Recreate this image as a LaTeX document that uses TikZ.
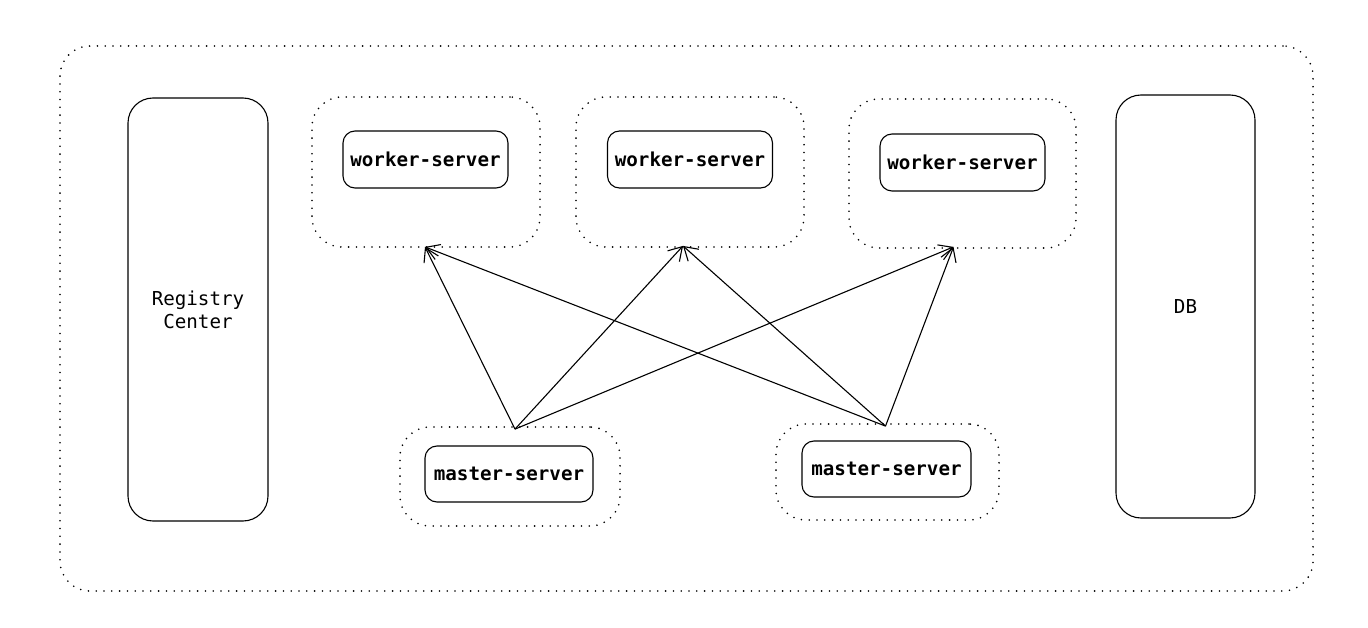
\documentclass[tikz,border=0pt]{standalone}
\usepackage{fontspec}
\setmonofont{DejaVu Sans Mono}
\usetikzlibrary{arrows.meta}
\begin{document}
\begin{tikzpicture}[x=1pt,y=-1pt,
  dotbox/.style={draw, line width=1.8pt, dash pattern=on 0pt off 7.8pt, line cap=round, rounded corners=30pt, inner sep=0pt},
  svbox/.style={draw, line width=1.1pt, rounded corners=12pt, inner sep=0pt, minimum width=165pt, minimum height=57pt, font=\ttfamily\bfseries\fontsize{19.2}{23}\selectfont},
  tallbox/.style={draw, line width=1.1pt, rounded corners=25pt, inner sep=0pt, minimum width=140pt, minimum height=423pt, align=center, font=\ttfamily\fontsize{19.2}{23}\selectfont},
  conn/.style={draw, line width=1.1pt, -{Straight Barb[length=13pt,width=16pt,line width=1.1pt]}}
]
\useasboundingbox (0,0) rectangle (1368,628);
\node[dotbox, minimum width=1253pt, minimum height=545pt] (outer) at (686.5,318.5) {};
\node[tallbox] (reg) at (198,309.5) {Registry\\Center};
\node[tallbox, minimum width=139pt] (db) at (1185.5,306.5) {DB};
\node[dotbox, minimum width=228pt, minimum height=150pt] (g1) at (426,172) {};
\node[dotbox, minimum width=228pt, minimum height=150pt] (g2) at (690,172) {};
\node[dotbox, minimum width=227pt, minimum height=149pt] (g3) at (962.5,173.5) {};
\node[svbox] (w1) at (425.5,159.5) {worker-server};
\node[svbox] (w2) at (690,159.5) {worker-server};
\node[svbox] (w3) at (962.5,162.5) {worker-server};
\node[dotbox, minimum width=220pt, minimum height=99pt] (mg1) at (510,476.5) {};
\node[dotbox, minimum width=223pt, minimum height=96pt] (mg2) at (887.5,472) {};
\node[svbox, minimum width=168pt, minimum height=56pt] (m1) at (509,474) {master-server};
\node[svbox, minimum width=169pt, minimum height=56pt] (m2) at (886.5,469) {master-server};
\coordinate (s1) at ([xshift=5pt,yshift=-3pt]mg1.north);
\coordinate (s2) at ([xshift=-2pt,yshift=-3pt]mg2.north);
\coordinate (t1) at ([xshift=-1pt,yshift=1pt]g1.south);
\coordinate (t2) at ([xshift=-7pt,yshift=2pt]g2.south);
\coordinate (t3) at ([xshift=-9pt,yshift=2pt]g3.south);
\draw[conn] (s1) -- (t1);
\draw[conn] (s1) -- (t2);
\draw[conn] (s1) -- (t3);
\draw[conn] (s2) -- (t1);
\draw[conn] (s2) -- (t2);
\draw[conn] (s2) -- (t3);
\end{tikzpicture}
\end{document}
